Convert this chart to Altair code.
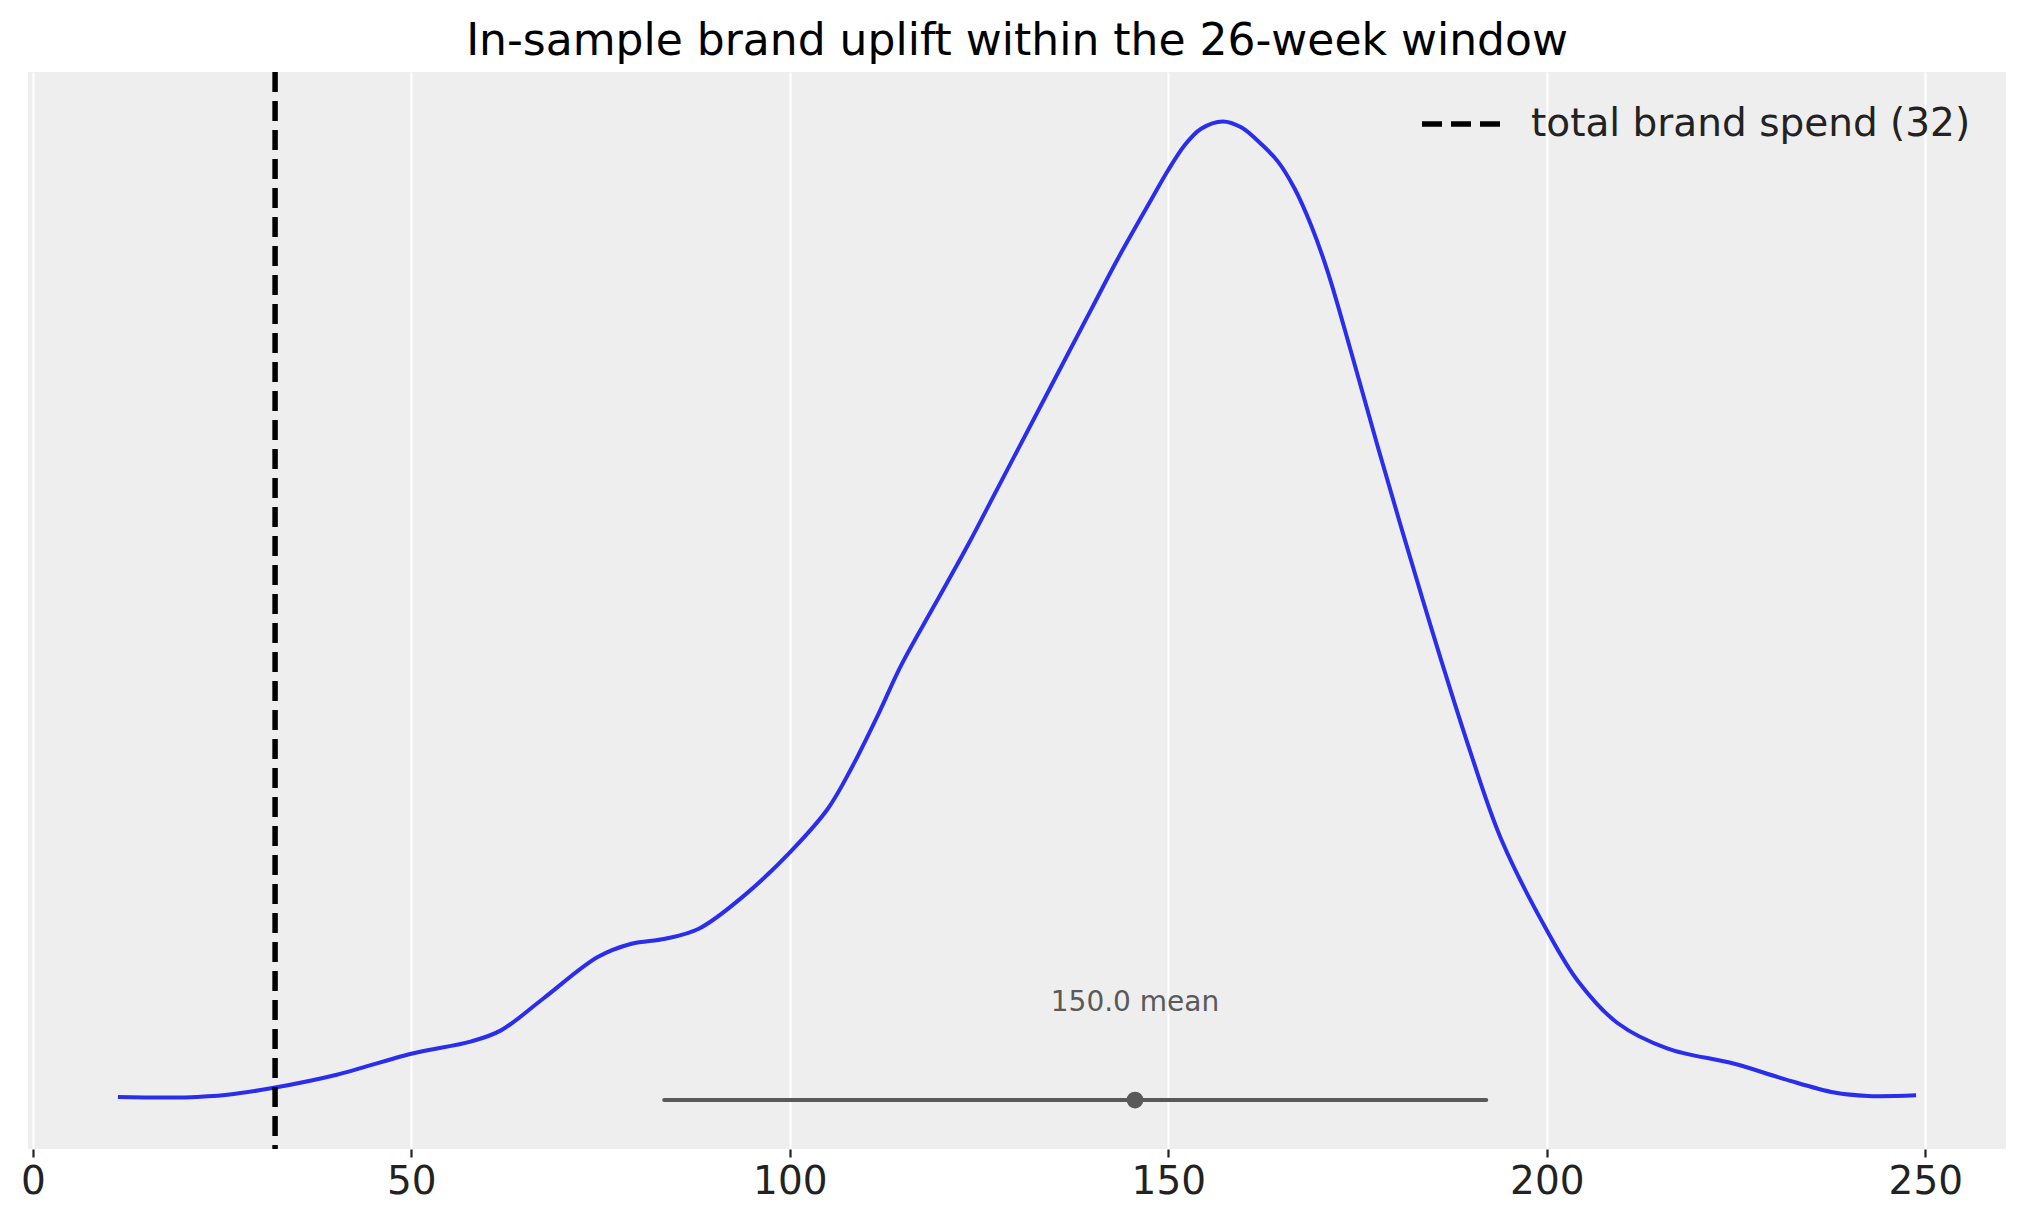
import altair as alt
import pandas as pd

# KDE of the in-sample brand uplift posterior
kde_x = [11.24, 20.15, 25.71, 31.82, 40.16, 50.0, 57.95, 61.84, 67.40, 74.62,
         79.08, 83.53, 87.97, 94.0, 100.04, 105.02, 108.10, 111.62, 114.70, 119.10,
         123.51, 127.03, 130.12, 134.52, 139.80, 143.33, 147.73, 149.93, 152.13, 154.33,
         157.20, 159.62, 162.26, 164.46, 166.66, 168.86, 171.07, 174.15, 177.68, 180.75,
         183.62, 186.04, 189.56, 193.96, 200.0, 204.1, 209.38, 215.98, 224.78, 231.39,
         237.99, 242.40, 248.78]
kde_density = [0.041, 0.037, 0.073, 0.169, 0.349, 0.638, 0.809, 0.960, 1.396, 1.970,
               2.153, 2.222, 2.360, 2.820, 3.416, 4.013, 4.564, 5.300, 5.988, 6.815,
               7.642, 8.344, 8.960, 9.836, 10.887, 11.588, 12.400, 12.800, 13.150, 13.380,
               13.480, 13.400, 13.170, 12.930, 12.560, 12.050, 11.406, 10.305, 8.996, 7.894,
               6.888, 6.061, 4.904, 3.596, 2.339, 1.641, 1.058, 0.709, 0.500, 0.289,
               0.103, 0.056, 0.066]

hdi_low = [83.4]
hdi_high = [192.0]
hdi_y = [0.0]
mean_x = [145.6]
mean_label = ["150.0 mean"]
label_y = [1.226]
spend_x = [32]
spend_label = ["total brand spend (32)"]
x_ticks = [0, 50, 100, 150, 200, 250]

FONT = "DejaVu Sans"
BLUE = "#2a2eec"
GRAY = "#595959"

x_scale = alt.Scale(domain=[-0.64, 260.66], nice=False, zero=False)
y_scale = alt.Scale(domain=[-0.674, 14.161], nice=False, zero=False)

kde_df = pd.DataFrame({"x": kde_x, "density": kde_density})
hdi_df = pd.DataFrame({"lo": hdi_low, "hi": hdi_high, "y": hdi_y})
mean_df = pd.DataFrame({"x": mean_x, "y": hdi_y, "label": mean_label, "ly": label_y})
spend_df = pd.DataFrame({"x": spend_x, "label": spend_label})

x_axis = alt.Axis(values=x_ticks, format="d", title=None, grid=True, gridColor="white",
                  gridWidth=2, domain=False, tickColor="#222222", tickWidth=2.2, tickSize=8,
                  labelFontSize=39, labelColor="#222222", labelFont=FONT, labelPadding=5)

kde = alt.Chart(kde_df).mark_line(color=BLUE, strokeWidth=4, interpolate="catmull-rom").encode(
    x=alt.X("x:Q", scale=x_scale, axis=x_axis),
    y=alt.Y("density:Q", scale=y_scale, axis=None),
)

hdi = alt.Chart(hdi_df).mark_rule(color=GRAY, strokeWidth=4, strokeCap="round").encode(
    x=alt.X("lo:Q", scale=x_scale),
    x2="hi:Q",
    y=alt.Y("y:Q", scale=y_scale),
)

point = alt.Chart(mean_df).mark_circle(color=GRAY, opacity=1, size=283).encode(
    x=alt.X("x:Q", scale=x_scale),
    y=alt.Y("y:Q", scale=y_scale),
)

text = alt.Chart(mean_df).mark_text(font=FONT, fontSize=28, color=GRAY, align="center",
                                     baseline="alphabetic").encode(
    x=alt.X("x:Q", scale=x_scale),
    y=alt.Y("ly:Q", scale=y_scale),
    text="label:N",
)

spend = alt.Chart(spend_df).mark_rule(strokeWidth=5.5, strokeDash=[20, 9]).encode(
    x=alt.X("x:Q", scale=x_scale),
    color=alt.Color("label:N", scale=alt.Scale(domain=spend_label, range=["black"]),
                    legend=alt.Legend(title=None, orient="none", legendX=1391, legendY=9,
                                      symbolType="stroke", symbolSize=6400,
                                      symbolStrokeWidth=5.5, symbolDash=[20, 9],
                                      labelFontSize=39, labelFont=FONT, labelColor="#222222",
                                      labelOffset=26, padding=0, labelLimit=800)),
)

chart = alt.layer(kde, hdi, point, text, spend).properties(
    width=1978,
    height=1077,
    title=alt.Title("In-sample brand uplift within the 26-week window", fontSize=44,
                    font=FONT, color="black", fontWeight="normal", offset=5, anchor="middle"),
    padding={"left": 12, "top": 12, "right": 5, "bottom": 0},
    background="white",
).configure_view(fill="#eeeeee", stroke=None)

chart.save("out.html", embed_options={"renderer": "svg", "actions": False})
